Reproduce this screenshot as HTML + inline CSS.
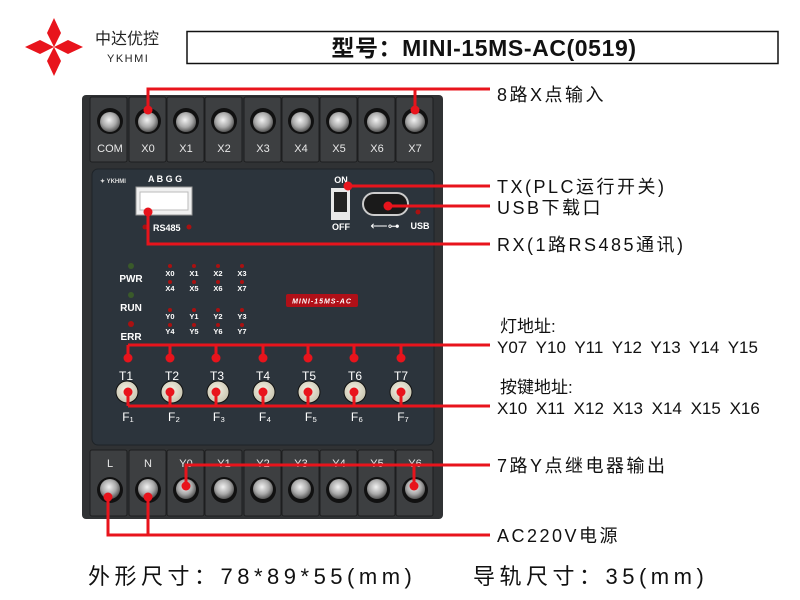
<!DOCTYPE html>
<html><head><meta charset="utf-8"><style>
html,body{margin:0;padding:0;background:#fff;}
svg{display:block;}
text{font-family:"Liberation Sans","Noto Sans CJK SC",sans-serif;}
</style></head><body>
<svg width="800" height="600" viewBox="0 0 800 600" xmlns="http://www.w3.org/2000/svg">
<defs>
<radialGradient id="sc" cx="45%" cy="40%" r="60%"><stop offset="0" stop-color="#f2f2f2"/><stop offset="0.6" stop-color="#a9a9a9"/><stop offset="1" stop-color="#555"/></radialGradient>
<radialGradient id="bt" cx="45%" cy="40%" r="60%"><stop offset="0" stop-color="#f4f1e4"/><stop offset="1" stop-color="#c9c5b0"/></radialGradient>
</defs>
<!-- logo -->
<g fill="#e8141c">
<polygon points="54,18 61,33 54,47 47,33"/>
<polygon points="54,76 61,61 54,47 47,61"/>
<polygon points="25,47 40,40 54,47 40,54"/>
<polygon points="83,47 68,40 54,47 68,54"/>
</g>
<text x="95" y="44" font-size="16" fill="#222">中达优控</text>
<text x="107" y="62" font-size="11" fill="#222" letter-spacing="1.5">YKHMI</text>
<rect x="187" y="31.5" width="591" height="32" fill="#fff" stroke="#111" stroke-width="1.5"/>
<text x="484" y="56" font-size="23" font-weight="bold" text-anchor="middle" fill="#111" letter-spacing="0.6">型号：MINI-15MS-AC(0519)</text>

<!-- device -->
<rect x="82" y="95" width="361" height="424" rx="4" fill="#303234"/>
<g fill="#3d3f41" stroke="#1d1e1f" stroke-width="1">
<rect x="90" y="97" width="37" height="65" rx="2"/><rect x="129" y="97" width="37" height="65" rx="2"/><rect x="167" y="97" width="37" height="65" rx="2"/><rect x="205" y="97" width="37" height="65" rx="2"/><rect x="244" y="97" width="37" height="65" rx="2"/><rect x="282" y="97" width="37" height="65" rx="2"/><rect x="320" y="97" width="37" height="65" rx="2"/><rect x="358" y="97" width="37" height="65" rx="2"/><rect x="396" y="97" width="37" height="65" rx="2"/>
</g>
<g fill="#111">
<circle cx="110" cy="121" r="13"/><circle cx="148" cy="121" r="13"/><circle cx="186" cy="121" r="13"/><circle cx="224" cy="121" r="13"/><circle cx="263" cy="121" r="13"/><circle cx="301" cy="121" r="13"/><circle cx="339" cy="121" r="13"/><circle cx="377" cy="121" r="13"/><circle cx="415" cy="121" r="13"/>
</g>
<g fill="url(#sc)">
<circle cx="110" cy="122" r="10"/><circle cx="148" cy="122" r="10"/><circle cx="186" cy="122" r="10"/><circle cx="224" cy="122" r="10"/><circle cx="263" cy="122" r="10"/><circle cx="301" cy="122" r="10"/><circle cx="339" cy="122" r="10"/><circle cx="377" cy="122" r="10"/><circle cx="415" cy="122" r="10"/>
</g>
<g font-size="11" fill="#e8e8e8" text-anchor="middle">
<text x="110" y="152">COM</text><text x="148" y="152">X0</text><text x="186" y="152">X1</text><text x="224" y="152">X2</text><text x="263" y="152">X3</text><text x="301" y="152">X4</text><text x="339" y="152">X5</text><text x="377" y="152">X6</text><text x="415" y="152">X7</text>
</g>
<!-- panel -->
<rect x="92" y="169" width="342" height="276" rx="6" fill="#2c343c" stroke="#1e2328"/>
<text x="100" y="183" font-size="6" fill="#ddd" font-weight="bold">✦ YKHMI</text>
<text x="148" y="182" font-size="9" fill="#fff" font-weight="bold">A B G G</text>
<rect x="136" y="187" width="56" height="28" fill="#f0f0f0" stroke="#999"/>
<rect x="140" y="192" width="48" height="18" fill="#fff" stroke="#bbb"/>
<text x="153" y="231" font-size="9" fill="#fff" font-weight="bold">RS485</text>
<circle cx="145" cy="227" r="2.5" fill="#a11"/><circle cx="189" cy="227" r="2.5" fill="#a11"/>
<text x="341" y="183" font-size="9" fill="#fff" font-weight="bold" text-anchor="middle">ON</text>
<rect x="331" y="188" width="19" height="32" fill="#e8e8e8"/>
<rect x="334" y="192" width="13" height="20" fill="#222"/>
<text x="341" y="230" font-size="9" fill="#fff" font-weight="bold" text-anchor="middle">OFF</text>
<rect x="363" y="193" width="45" height="22" rx="11" fill="#1a1a1a" stroke="#ccc" stroke-width="2"/>
<circle cx="418" cy="212" r="2.5" fill="#a11"/>
<text x="385" y="230" font-size="12" fill="#fff" text-anchor="middle">⟵⊶</text>
<text x="420" y="229" font-size="9" fill="#fff" font-weight="bold" text-anchor="middle">USB</text>
<!-- leds -->
<circle cx="131" cy="266" r="3" fill="#3a5a2a"/><text x="131" y="282" font-size="10" fill="#fff" font-weight="bold" text-anchor="middle">PWR</text>
<circle cx="131" cy="295" r="3" fill="#3a5a2a"/><text x="131" y="311" font-size="10" fill="#fff" font-weight="bold" text-anchor="middle">RUN</text>
<circle cx="131" cy="324" r="3" fill="#a11"/><text x="131" y="340" font-size="10" fill="#fff" font-weight="bold" text-anchor="middle">ERR</text>
<g font-size="7.5" fill="#fff" font-weight="bold" text-anchor="middle">
<text x="170" y="276">X0</text><text x="194" y="276">X1</text><text x="218" y="276">X2</text><text x="242" y="276">X3</text>
<text x="170" y="291">X4</text><text x="194" y="291">X5</text><text x="218" y="291">X6</text><text x="242" y="291">X7</text>
<text x="170" y="319">Y0</text><text x="194" y="319">Y1</text><text x="218" y="319">Y2</text><text x="242" y="319">Y3</text>
<text x="170" y="334">Y4</text><text x="194" y="334">Y5</text><text x="218" y="334">Y6</text><text x="242" y="334">Y7</text>
</g>
<g fill="#a11">
<circle cx="170" cy="266" r="2"/><circle cx="194" cy="266" r="2"/><circle cx="218" cy="266" r="2"/><circle cx="242" cy="266" r="2"/>
<circle cx="170" cy="282" r="2"/><circle cx="194" cy="282" r="2"/><circle cx="218" cy="282" r="2"/><circle cx="242" cy="282" r="2"/>
<circle cx="170" cy="310" r="2"/><circle cx="194" cy="310" r="2"/><circle cx="218" cy="310" r="2"/><circle cx="242" cy="310" r="2"/>
<circle cx="170" cy="325" r="2"/><circle cx="194" cy="325" r="2"/><circle cx="218" cy="325" r="2"/><circle cx="242" cy="325" r="2"/>
</g>
<rect x="286" y="294" width="72" height="13" rx="2" fill="#b01018"/>
<text x="322" y="303.5" font-size="7" fill="#fff" font-style="italic" font-weight="bold" text-anchor="middle" letter-spacing="1">MINI-15MS-AC</text>
<!-- T / F -->
<g font-size="12" fill="#fff" text-anchor="middle">
<text x="126" y="380">T1</text><text x="172" y="380">T2</text><text x="217" y="380">T3</text><text x="263" y="380">T4</text><text x="309" y="380">T5</text><text x="355" y="380">T6</text><text x="401" y="380">T7</text>
<text x="128" y="421">F₁</text><text x="174" y="421">F₂</text><text x="219" y="421">F₃</text><text x="265" y="421">F₄</text><text x="311" y="421">F₅</text><text x="357" y="421">F₆</text><text x="403" y="421">F₇</text>
</g>
<g fill="url(#bt)" stroke="#111" stroke-width="1">
<circle cx="127" cy="392" r="11"/><circle cx="172" cy="392" r="11"/><circle cx="218" cy="392" r="11"/><circle cx="264" cy="392" r="11"/><circle cx="309" cy="392" r="11"/><circle cx="355" cy="392" r="11"/><circle cx="401" cy="392" r="11"/>
</g>
<!-- bottom terminals -->
<g fill="#3d3f41" stroke="#1d1e1f" stroke-width="1">
<rect x="90" y="450" width="37" height="66" rx="2"/><rect x="129" y="450" width="37" height="66" rx="2"/><rect x="167" y="450" width="37" height="66" rx="2"/><rect x="205" y="450" width="37" height="66" rx="2"/><rect x="244" y="450" width="37" height="66" rx="2"/><rect x="282" y="450" width="37" height="66" rx="2"/><rect x="320" y="450" width="37" height="66" rx="2"/><rect x="358" y="450" width="37" height="66" rx="2"/><rect x="396" y="450" width="37" height="66" rx="2"/>
</g>
<g font-size="11" fill="#e8e8e8" text-anchor="middle">
<text x="110" y="467">L</text><text x="148" y="467">N</text><text x="186" y="467">Y0</text><text x="224" y="467">Y1</text><text x="263" y="467">Y2</text><text x="301" y="467">Y3</text><text x="339" y="467">Y4</text><text x="377" y="467">Y5</text><text x="415" y="467">Y6</text>
</g>
<g fill="#111">
<circle cx="110" cy="490" r="13"/><circle cx="148" cy="490" r="13"/><circle cx="186" cy="490" r="13"/><circle cx="224" cy="490" r="13"/><circle cx="263" cy="490" r="13"/><circle cx="301" cy="490" r="13"/><circle cx="339" cy="490" r="13"/><circle cx="377" cy="490" r="13"/><circle cx="415" cy="490" r="13"/>
</g>
<g fill="url(#sc)">
<circle cx="110" cy="489" r="10"/><circle cx="148" cy="489" r="10"/><circle cx="186" cy="489" r="10"/><circle cx="224" cy="489" r="10"/><circle cx="263" cy="489" r="10"/><circle cx="301" cy="489" r="10"/><circle cx="339" cy="489" r="10"/><circle cx="377" cy="489" r="10"/><circle cx="415" cy="489" r="10"/>
</g>

<!-- red connectors -->
<g stroke="#e8141c" stroke-width="3" fill="none">
<polyline points="148,110 148,89 490,89"/><line x1="415" y1="89" x2="415" y2="110"/>
<line x1="348" y1="186" x2="490" y2="186"/>
<line x1="388" y1="206" x2="490" y2="206"/>
<polyline points="148,212 148,244 490,244"/>
<line x1="128" y1="345" x2="490" y2="345"/>
<line x1="128" y1="345" x2="128" y2="358"/><line x1="170" y1="345" x2="170" y2="358"/><line x1="216" y1="345" x2="216" y2="358"/><line x1="263" y1="345" x2="263" y2="358"/><line x1="308" y1="345" x2="308" y2="358"/><line x1="354" y1="345" x2="354" y2="358"/><line x1="401" y1="345" x2="401" y2="358"/>
<line x1="128" y1="406" x2="490" y2="406"/>
<line x1="128" y1="392" x2="128" y2="406"/><line x1="170" y1="392" x2="170" y2="406"/><line x1="216" y1="392" x2="216" y2="406"/><line x1="263" y1="392" x2="263" y2="406"/><line x1="308" y1="392" x2="308" y2="406"/><line x1="354" y1="392" x2="354" y2="406"/><line x1="401" y1="392" x2="401" y2="406"/>
<polyline points="186,486 186,465 490,465"/><line x1="414" y1="465" x2="414" y2="486"/>
<polyline points="108,497 108,535 490,535"/><line x1="148" y1="497" x2="148" y2="535"/>
</g>
<g fill="#e8141c">
<circle cx="148" cy="110" r="4.5"/><circle cx="415" cy="110" r="4.5"/>
<circle cx="348" cy="186" r="4.5"/><circle cx="388" cy="206" r="4.5"/><circle cx="148" cy="212" r="4.5"/>
<circle cx="128" cy="358" r="4.5"/><circle cx="170" cy="358" r="4.5"/><circle cx="216" cy="358" r="4.5"/><circle cx="263" cy="358" r="4.5"/><circle cx="308" cy="358" r="4.5"/><circle cx="354" cy="358" r="4.5"/><circle cx="401" cy="358" r="4.5"/>
<circle cx="128" cy="392" r="4.5"/><circle cx="170" cy="392" r="4.5"/><circle cx="216" cy="392" r="4.5"/><circle cx="263" cy="392" r="4.5"/><circle cx="308" cy="392" r="4.5"/><circle cx="354" cy="392" r="4.5"/><circle cx="401" cy="392" r="4.5"/>
<circle cx="186" cy="486" r="4.5"/><circle cx="414" cy="486" r="4.5"/>
<circle cx="108" cy="497" r="4.5"/><circle cx="148" cy="497" r="4.5"/>
</g>

<!-- right labels -->
<g font-size="18" fill="#111" letter-spacing="2.5">
<text x="497" y="101">8路X点输入</text>
<text x="497" y="193">TX(PLC运行开关)</text>
<text x="497" y="214">USB下载口</text>
<text x="497" y="251">RX(1路RS485通讯)</text>
<text x="497" y="472">7路Y点继电器输出</text>
<text x="497" y="542">AC220V电源</text>
</g>
<g font-size="17" fill="#111" word-spacing="4">
<text x="500" y="332">灯地址:</text>
<text x="497" y="353">Y07 Y10 Y11 Y12 Y13 Y14 Y15</text>
<text x="500" y="393">按键地址:</text>
<text x="497" y="414">X10 X11 X12 X13 X14 X15 X16</text>
</g>
<text x="88" y="584" font-size="22" fill="#111" letter-spacing="4.5">外形尺寸：78*89*55(mm)</text>
<text x="473" y="584" font-size="22" fill="#111" letter-spacing="4.5">导轨尺寸：35(mm)</text>
</svg>
</body></html>
